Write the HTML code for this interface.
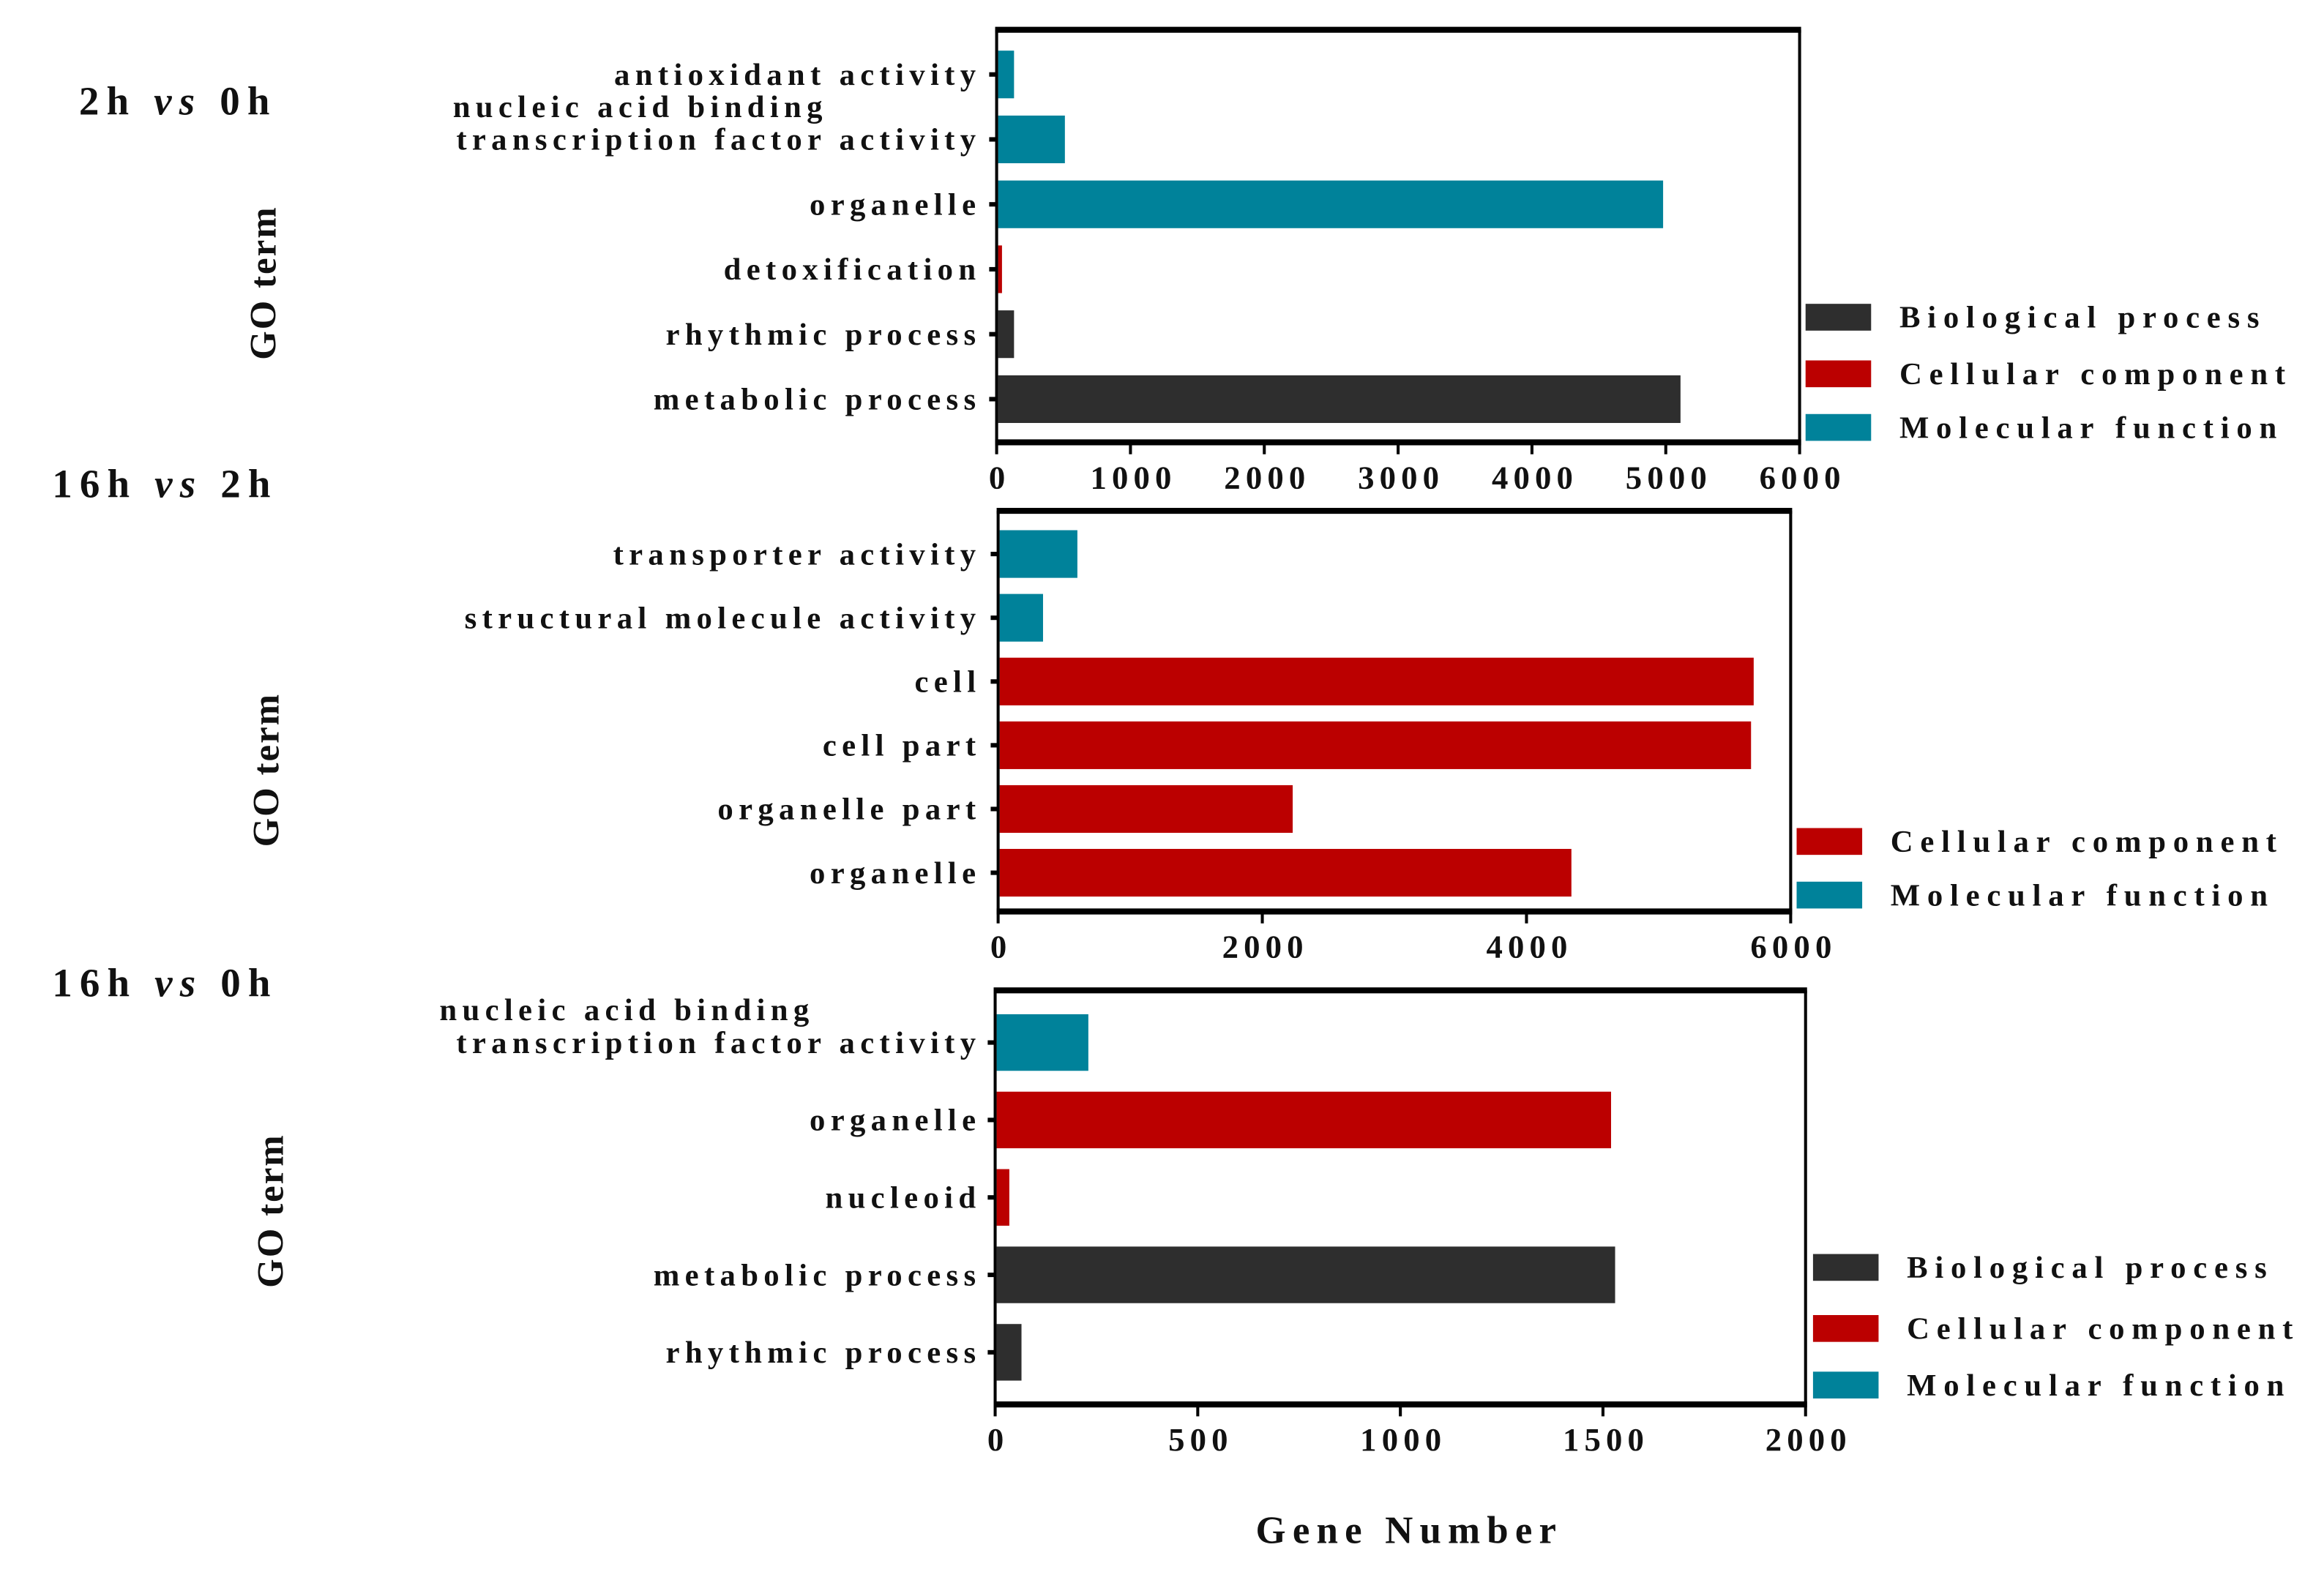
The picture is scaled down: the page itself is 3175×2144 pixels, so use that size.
<!DOCTYPE html>
<html><head><meta charset="utf-8">
<style>
html,body{margin:0;padding:0;background:#fff;}
svg{display:block;}
text{font-family:"Liberation Serif",serif;font-weight:bold;fill:#111;}
</style></head>
<body>
<svg id="chart" width="3175" height="2144" viewBox="0 0 1560 1053.5" preserveAspectRatio="none" xmlns="http://www.w3.org/2000/svg"></svg>
<script>
// Panel 1: 2h vs 0h
const p1Categories = [["antioxidant activity"],["nucleic acid binding","transcription factor activity"],["organelle"],["detoxification"],["rhythmic process"],["metabolic process"]];
const p1Values = [130, 510, 4980, 40, 130, 5110];
const p1Groups = ["mf","mf","mf","cc","bp","bp"];
const p1Ticks = [0,1000,2000,3000,4000,5000,6000];
// Panel 2: 16h vs 2h
const p2Categories = [["transporter activity"],["structural molecule activity"],["cell"],["cell part"],["organelle part"],["organelle"]];
const p2Values = [600, 340, 5720, 5700, 2230, 4340];
const p2Groups = ["mf","mf","cc","cc","cc","cc"];
const p2Ticks = [0,2000,4000,6000];
// Panel 3: 16h vs 0h
const p3Categories = [["nucleic acid binding","transcription factor activity"],["organelle"],["nucleoid"],["metabolic process"],["rhythmic process"]];
const p3Values = [230, 1520, 35, 1530, 65];
const p3Groups = ["mf","cc","cc","bp","bp"];
const p3Ticks = [0,500,1000,1500,2000];

const colors = {bp:"#2e2e2e", cc:"#bb0000", mf:"#00829a"};
const names = {bp:"Biological process", cc:"Cellular component", mf:"Molecular function"};
const NS = "http://www.w3.org/2000/svg";
const svg = document.getElementById('chart');
function mk(tag, attrs, parent){
  const e = document.createElementNS(NS, tag);
  for (const k in attrs) e.setAttribute(k, attrs[k]);
  (parent||svg).appendChild(e);
  return e;
}
function txt(x,y,s,size,anchor,parent,ls){
  const t = mk('text',{x:x,y:y,'font-size':size,'text-anchor':anchor||'start','letter-spacing':ls||0},parent);
  t.textContent = s;
  return t;
}
const LS = 3.6;

function panel(cfg){
  const g = mk('g',{});
  
  
  const {x0,x1,y0,y1,max,cats,vals,groups,ticks,barH} = cfg;
  const xs = v => x0 + (v/max)*(x1-x0);
  const n = cats.length;
  const step = (cfg.lastC - cfg.firstC)/(n-1);
  for (let i=0;i<n;i++){
    const cy = cfg.firstC + i*step;
    const r = mk('rect',{x:x0+1,y:cy-barH/2,width:Math.max(xs(vals[i])-x0-1,2),height:barH,fill:colors[groups[i]]},g);
    
    
    mk('line',{x1:x0-5,x2:x0,y1:cy,y2:cy,stroke:'#000','stroke-width':3},g);
    const lines = cats[i];
    if (lines.length===1){
      const t = txt(655+LS, cy+7, lines[0], 21, 'end', g, LS);
      
      
    } else {
      const t1 = txt(cfg.l1x, cy-15, lines[0], 21, 'start', g, LS);
      
      
      const t2 = txt(655+LS, cy+7, lines[1], 21, 'end', g, LS);
      
      
    }
  }
  mk('line',{x1:x0-1,x2:x1+1,y1:y0,y2:y0,stroke:'#000','stroke-width':4},g);
  mk('line',{x1:x0-1,x2:x1+1,y1:y1,y2:y1,stroke:'#000','stroke-width':4},g);
  mk('line',{x1:x0,x2:x0,y1:y0,y2:y1,stroke:'#000','stroke-width':2},g);
  mk('line',{x1:x1,x2:x1,y1:y0,y2:y1,stroke:'#000','stroke-width':2},g);
  ticks.forEach(v=>{
    const x = xs(v);
    mk('line',{x1:x,x2:x,y1:y1,y2:y1+8,stroke:'#000','stroke-width':2},g);
    const t = txt(x+2, y1+31, String(v), 22, 'middle', g, 3.5);
    
    
  });
  const tt = mk('text',{x:cfg.tx,y:cfg.ty,'font-size':27,'letter-spacing':5},g);
  tt.innerHTML = cfg.title[0] + ' <tspan font-style="italic">vs</tspan> ' + cfg.title[1];
  
  
  const yl = txt(0,0,'GO term',25,'middle',g,1);
  yl.setAttribute('transform','translate('+cfg.gx+','+cfg.gy+') rotate(-90)');
  
  
  cfg.legend.forEach((k,i)=>{
    const ly = cfg.legY[i];
    const le = mk('g',{},g);
    
    
    mk('rect',{x:cfg.legX,y:ly-9,width:44,height:18,fill:colors[k]},le);
    txt(cfg.legX+63, ly+7, names[k], 21, 'start', le, 4.8);
  });
}

panel({name:'panel-2h-vs-0h',x0:669,x1:1208,y0:20,y1:297,max:6000,cats:p1Categories,vals:p1Values,groups:p1Groups,ticks:p1Ticks,
  firstC:50,lastC:268,barH:32,l1x:304,tx:53,ty:77,title:['2h','0h'],gx:185,gy:190,
  legend:['bp','cc','mf'],legX:1212,legY:[213,251,287]});
panel({name:'panel-16h-vs-2h',x0:670,x1:1202,y0:343,y1:612,max:6000,cats:p2Categories,vals:p2Values,groups:p2Groups,ticks:p2Ticks,
  firstC:372,lastC:586,barH:32,l1x:304,tx:35,ty:334,title:['16h','2h'],gx:187,gy:517,
  legend:['cc','mf'],legX:1206,legY:[565,601]});
panel({name:'panel-16h-vs-0h',x0:668,x1:1212,y0:665,y1:943,max:2000,cats:p3Categories,vals:p3Values,groups:p3Groups,ticks:p3Ticks,
  firstC:700,lastC:908,barH:38,l1x:295,tx:35,ty:669,title:['16h','0h'],gx:190,gy:813,
  legend:['bp','cc','mf'],legX:1217,legY:[851,892,930]});

const xt = txt(946, 1036, 'Gene Number', 26, 'middle', null, 4.5);


</script>
</body></html>
